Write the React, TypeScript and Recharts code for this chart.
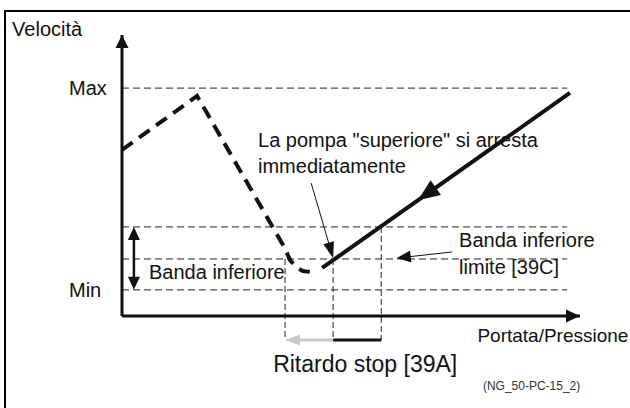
import React from "react";
import { LineChart, Line, XAxis, YAxis, ReferenceLine, ReferenceDot } from "recharts";

// speed levels (0..100 along the axes)
const MAX_SPEED = 81.1;
const BAND_TOP = 31.7;
const LIMIT = 20.3;
const MIN_SPEED = 9.3;
const LINE_END = 97.2;

// flow positions for the stop delay
const DELAY_START = 35.6;
const DELAY_MID = 46.1;
const DELAY_END = 56.6;
const DELAY_LEVEL = -8.5;

// upper pump (dashed) and lower pump (solid)
const upperPump = [
  { x: 0, y: 59.1 },
  { x: 16.4, y: 78.3 },
  { x: 35.4, y: 24.6 },
  { x: 36.7, y: 19.9 },
  { x: 38.2, y: 17.1 },
  { x: 39.5, y: 16.0 },
  { x: 41.0, y: 15.7 },
];
const lowerPump = [
  { x: 43.7, y: 17.1 },
  { x: 97.8, y: 79.4 },
];

const NOTES = [
  { text: "Velocità", x: -24.0, y: 99.6, size: 20 },
  { text: "La pompa \"superiore\" si arresta", x: 29.7, y: 60.1, size: 20 },
  { text: "immediatamente", x: 29.7, y: 50.9, size: 20 },
  { text: "Banda inferiore", x: 5.9, y: 13.2, size: 20 },
  { text: "Banda inferiore", x: 73.6, y: 24.6, size: 20 },
  { text: "limite [39C]", x: 73.6, y: 14.9, size: 20 },
  { text: "Portata/Pressione", x: 77.6, y: -9.3, size: 19 },
  { text: "Ritardo stop [39A]", x: 33.0, y: -19.9, size: 23 },
  { text: "(NG_50-PC-15_2)", x: 78.8, y: -26.3, size: 12, color: "#333" },
];

const FONT = "'Liberation Sans', Arial, sans-serif";

// line with arrow head(s), drawn from the reference line's scaled ends
function arrow({
  head = "end",
  len = 14,
  wid = 12,
  lineWidth = 1,
  color = "#111",
  line = true,
}: {
  head?: "end" | "both";
  len?: number;
  wid?: number;
  lineWidth?: number;
  color?: string;
  line?: boolean;
}) {
  return (p: any) => {
    const { x1, y1, x2, y2 } = p;
    const dx = x2 - x1;
    const dy = y2 - y1;
    const d = Math.hypot(dx, dy) || 1;
    const ux = dx / d;
    const uy = dy / d;
    const tri = (tx: number, ty: number, sx: number, sy: number) => {
      const bx = tx - sx * len;
      const by = ty - sy * len;
      const px = (-sy * wid) / 2;
      const py = (sx * wid) / 2;
      return `${tx},${ty} ${bx + px},${by + py} ${bx - px},${by - py}`;
    };
    const cut = len * 0.7;
    const lx1 = head === "both" ? x1 + ux * cut : x1;
    const ly1 = head === "both" ? y1 + uy * cut : y1;
    return (
      <g>
        {line && (
          <line
            x1={lx1}
            y1={ly1}
            x2={x2 - ux * cut}
            y2={y2 - uy * cut}
            stroke={color}
            strokeWidth={lineWidth}
          />
        )}
        <polygon points={tri(x2, y2, ux, uy)} fill={color} />
        {head === "both" && <polygon points={tri(x1, y1, -ux, -uy)} fill={color} />}
      </g>
    );
  };
}

const dashed = { stroke: "#222", strokeWidth: 1, strokeDasharray: "7 4", ifOverflow: "visible" as const };

export default function App() {
  return (
    <div style={{ position: "fixed", left: 0, top: 0, width: 630, height: 408, overflow: "hidden", background: "#fff" }}>
      <div
        style={{
          position: "absolute",
          left: 4,
          top: 10,
          width: 700,
          height: 500,
          borderTop: "2.5px solid #000",
          borderLeft: "2.5px solid #000",
        }}
      />
      <div style={{ position: "absolute", left: 0, top: 0 }}>
        <LineChart width={630} height={408} margin={{ top: 35, right: 50, bottom: 0, left: 0 }}>
          <XAxis
            type="number"
            dataKey="x"
            domain={[0, 100]}
            height={92}
            tick={false}
            tickLine={false}
            axisLine={{ stroke: "#111", strokeWidth: 3 }}
          />
          <YAxis
            type="number"
            domain={[0, 100]}
            width={122}
            ticks={[MIN_SPEED, MAX_SPEED]}
            tickSize={0}
            tickMargin={0}
            tickLine={false}
            axisLine={{ stroke: "#111", strokeWidth: 3 }}
            tick={(t: any) => (
              <text x={t.x - 53} y={t.y} dy="0.35em" fontSize={20} fontFamily={FONT} fill="#111" textAnchor="start">
                {t.payload.value === MAX_SPEED ? "Max" : "Min"}
              </text>
            )}
          />

          {/* speed levels */}
          <ReferenceLine segment={[{ x: 0, y: MAX_SPEED }, { x: LINE_END, y: MAX_SPEED }]} {...dashed} />
          <ReferenceLine segment={[{ x: 0, y: BAND_TOP }, { x: LINE_END, y: BAND_TOP }]} {...dashed} />
          <ReferenceLine segment={[{ x: 0, y: LIMIT }, { x: LINE_END, y: LIMIT }]} {...dashed} />
          <ReferenceLine segment={[{ x: 0, y: MIN_SPEED }, { x: LINE_END, y: MIN_SPEED }]} {...dashed} />

          {/* stop delay */}
          <ReferenceLine segment={[{ x: DELAY_START, y: LIMIT }, { x: DELAY_START, y: DELAY_LEVEL }]} {...dashed} strokeDasharray="6 3" />
          <ReferenceLine segment={[{ x: DELAY_MID, y: LIMIT }, { x: DELAY_MID, y: DELAY_LEVEL }]} {...dashed} strokeDasharray="6 3" />
          <ReferenceLine segment={[{ x: DELAY_END, y: BAND_TOP }, { x: DELAY_END, y: DELAY_LEVEL }]} {...dashed} strokeDasharray="6 3" />
          <ReferenceLine
            segment={[{ x: DELAY_MID, y: DELAY_LEVEL }, { x: DELAY_START, y: DELAY_LEVEL }]}
            ifOverflow="visible"
            shape={arrow({ color: "#c8c8c8", lineWidth: 3, len: 15, wid: 11 })}
          />
          <ReferenceLine
            segment={[{ x: DELAY_MID, y: DELAY_LEVEL }, { x: DELAY_END, y: DELAY_LEVEL }]}
            ifOverflow="visible"
            stroke="#111"
            strokeWidth={3}
          />

          <Line
            data={upperPump}
            dataKey="y"
            type="linear"
            stroke="#111"
            strokeWidth={4}
            strokeDasharray="13 8"
            dot={false}
            isAnimationActive={false}
          />
          <Line
            data={lowerPump}
            dataKey="y"
            type="linear"
            stroke="#111"
            strokeWidth={4}
            dot={false}
            isAnimationActive={false}
          />

          {/* axis arrow heads */}
          <ReferenceLine segment={[{ x: 0, y: 0 }, { x: 0, y: 100 }]} ifOverflow="visible" shape={arrow({ line: false, len: 13, wid: 13 })} />
          <ReferenceLine segment={[{ x: 0, y: 0 }, { x: 100, y: 0 }]} ifOverflow="visible" shape={arrow({ line: false, len: 14, wid: 13 })} />

          {/* direction on the lower pump curve */}
          <ReferenceLine
            segment={[{ x: 97.8, y: 79.4 }, { x: 64.6, y: 41.2 }]}
            ifOverflow="visible"
            shape={arrow({ line: false, len: 22, wid: 18 })}
          />

          {/* band arrow */}
          <ReferenceLine
            segment={[{ x: 2.6, y: MIN_SPEED }, { x: 2.6, y: BAND_TOP }]}
            ifOverflow="visible"
            shape={arrow({ head: "both", lineWidth: 2.5, len: 13, wid: 12 })}
          />

          {/* callouts */}
          <ReferenceLine
            segment={[{ x: 41.3, y: 47.3 }, { x: 46.1, y: 20.6 }]}
            ifOverflow="visible"
            shape={arrow({ lineWidth: 1, len: 16, wid: 11 })}
          />
          <ReferenceLine
            segment={[{ x: 72.1, y: 22.8 }, { x: 60.0, y: 20.6 }]}
            ifOverflow="visible"
            shape={arrow({ lineWidth: 1, len: 14, wid: 12 })}
          />

          {NOTES.map((n, i) => (
            <ReferenceDot
              key={i}
              x={n.x}
              y={n.y}
              ifOverflow="visible"
              shape={(p: any) => (
                <text x={p.cx} y={p.cy} fontSize={n.size} fontFamily={FONT} fill={n.color || "#111"}>
                  {n.text}
                </text>
              )}
            />
          ))}
        </LineChart>
      </div>
    </div>
  );
}
